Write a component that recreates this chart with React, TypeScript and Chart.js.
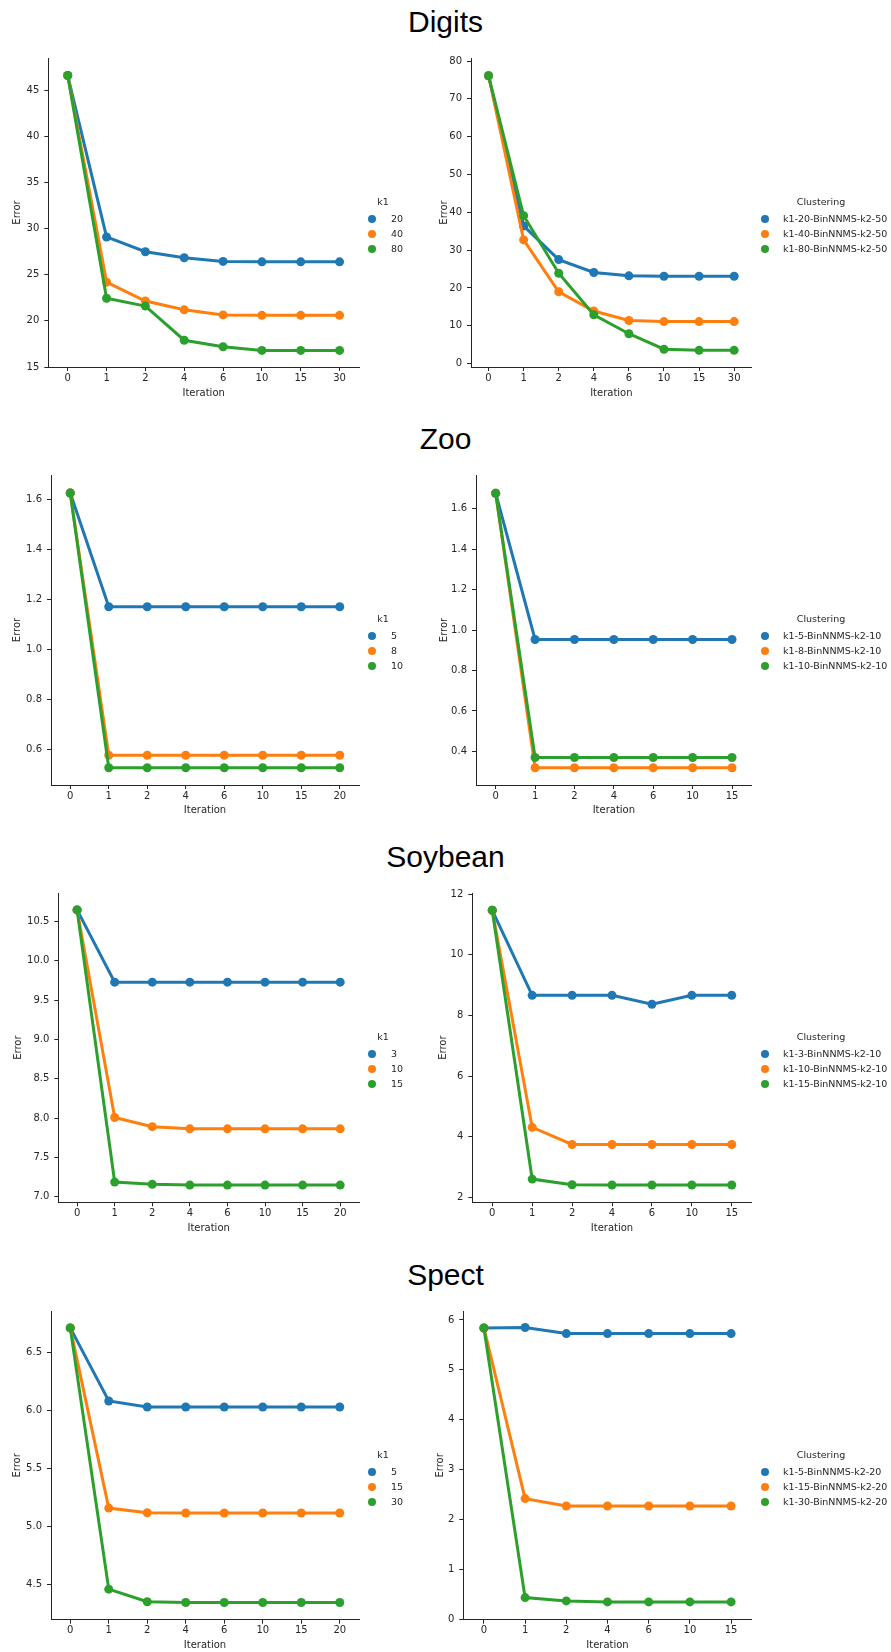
import React, { useEffect, useRef } from "react";
import { Chart, registerables } from "chart.js";
Chart.register(...registerables);

// ---------- categories ----------
const iterations30 = ["0", "1", "2", "4", "6", "10", "15", "30"];
const iterations20 = ["0", "1", "2", "4", "6", "10", "15", "20"];
const iterations15 = ["0", "1", "2", "4", "6", "10", "15"];

// ---------- Digits ----------
const digitsK1Labels = ["20", "40", "80"];
const digitsK1_20 = [46.6, 29.1, 27.5, 26.85, 26.45, 26.4, 26.4, 26.4];
const digitsK1_40 = [46.6, 24.2, 22.15, 21.2, 20.65, 20.6, 20.6, 20.6];
const digitsK1_80 = [46.6, 22.45, 21.6, 17.9, 17.2, 16.8, 16.8, 16.8];
const digitsLeftTicks = [15, 20, 25, 30, 35, 40, 45];

const digitsClusterLabels = ["k1-20-BinNNMS-k2-50", "k1-40-BinNNMS-k2-50", "k1-80-BinNNMS-k2-50"];
const digitsC20 = [76.1, 36.4, 27.5, 24.1, 23.2, 23.1, 23.1, 23.1];
const digitsC40 = [76.1, 32.7, 19.0, 13.9, 11.4, 11.1, 11.1, 11.1];
const digitsC80 = [76.1, 39.1, 23.9, 12.9, 7.9, 3.8, 3.5, 3.5];
const digitsRightTicks = [0, 10, 20, 30, 40, 50, 60, 70, 80];

// ---------- Zoo ----------
const zooK1Labels = ["5", "8", "10"];
const zooK1_5 = [1.624, 1.17, 1.17, 1.17, 1.17, 1.17, 1.17, 1.17];
const zooK1_8 = [1.624, 0.577, 0.577, 0.577, 0.577, 0.577, 0.577, 0.577];
const zooK1_10 = [1.624, 0.527, 0.527, 0.527, 0.527, 0.527, 0.527, 0.527];
const zooLeftTicks = [0.6, 0.8, 1.0, 1.2, 1.4, 1.6];

const zooClusterLabels = ["k1-5-BinNNMS-k2-10", "k1-8-BinNNMS-k2-10", "k1-10-BinNNMS-k2-10"];
const zooC5 = [1.676, 0.953, 0.953, 0.953, 0.953, 0.953, 0.953];
const zooC8 = [1.676, 0.319, 0.319, 0.319, 0.319, 0.319, 0.319];
const zooC10 = [1.676, 0.37, 0.37, 0.37, 0.37, 0.37, 0.37];
const zooRightTicks = [0.4, 0.6, 0.8, 1.0, 1.2, 1.4, 1.6];

// ---------- Soybean ----------
const soyK1Labels = ["3", "10", "15"];
const soyK1_3 = [10.645, 9.727, 9.727, 9.727, 9.727, 9.727, 9.727, 9.727];
const soyK1_10 = [10.645, 8.007, 7.89, 7.863, 7.863, 7.863, 7.863, 7.863];
const soyK1_15 = [10.645, 7.186, 7.157, 7.148, 7.148, 7.148, 7.148, 7.148];
const soyLeftTicks = [7.0, 7.5, 8.0, 8.5, 9.0, 9.5, 10.0, 10.5];

const soyClusterLabels = ["k1-3-BinNNMS-k2-10", "k1-10-BinNNMS-k2-10", "k1-15-BinNNMS-k2-10"];
const soyC3 = [11.47, 8.664, 8.664, 8.664, 8.368, 8.664, 8.664];
const soyC10 = [11.47, 4.31, 3.743, 3.743, 3.743, 3.743, 3.743];
const soyC15 = [11.47, 2.602, 2.416, 2.405, 2.405, 2.405, 2.405];
const soyRightTicks = [2, 4, 6, 8, 10, 12];

// ---------- Spect ----------
const spectK1Labels = ["5", "15", "30"];
const spectK1_5 = [6.713, 6.082, 6.03, 6.03, 6.03, 6.03, 6.03, 6.03];
const spectK1_15 = [6.713, 5.157, 5.117, 5.114, 5.114, 5.114, 5.114, 5.114];
const spectK1_30 = [6.713, 4.457, 4.348, 4.342, 4.342, 4.342, 4.342, 4.342];
const spectLeftTicks = [4.5, 5.0, 5.5, 6.0, 6.5];

const spectClusterLabels = ["k1-5-BinNNMS-k2-20", "k1-15-BinNNMS-k2-20", "k1-30-BinNNMS-k2-20"];
const spectC5 = [5.84, 5.85, 5.727, 5.727, 5.727, 5.727, 5.727];
const spectC15 = [5.84, 2.418, 2.271, 2.271, 2.271, 2.271, 2.271];
const spectC30 = [5.84, 0.433, 0.367, 0.347, 0.347, 0.347, 0.347];
const spectRightTicks = [0, 1, 2, 3, 4, 5, 6];

const sectionTitles = ["Digits", "Zoo", "Soybean", "Spect"];

// ---------- styling ----------
const COLORS = ["#1f77b4", "#ff7f0e", "#2ca02c"];
const AX = "#262626";
const TXT = "#262626";
const FONT_FAMILY = '"DejaVu Sans", sans-serif';
const LEGEND_FONT_SIZE = 9.5;
const AXIS_FONT_SIZE = 10;

type PanelCfg = {
  categories: string[];
  labels: string[];
  series: number[][];
  legendTitle: string;
  ticks: number[];
  decimals: number;
  yMin: number;
  yMax: number;
  L: number; T: number; R: number; B: number;
  errX: number; xlabY: number;
  side: "left" | "right";
};

const panels: PanelCfg[] = [
  { categories: iterations30, labels: digitsK1Labels, series: [digitsK1_20, digitsK1_40, digitsK1_80], legendTitle: "k1", ticks: digitsLeftTicks, decimals: 0, yMin: 15, yMax: 48.5, L: 48.3, T: 57, R: 359, B: 367, errX: 17.3, xlabY: 393, side: "left" },
  { categories: iterations30, labels: digitsClusterLabels, series: [digitsC20, digitsC40, digitsC80], legendTitle: "Clustering", ticks: digitsRightTicks, decimals: 0, yMin: -0.9, yMax: 80.8, L: 471, T: 57, R: 751.7, B: 367, errX: 443.5, xlabY: 393, side: "right" },
  { categories: iterations20, labels: zooK1Labels, series: [zooK1_5, zooK1_8, zooK1_10], legendTitle: "k1", ticks: zooLeftTicks, decimals: 1, yMin: 0.458, yMax: 1.696, L: 51, T: 474.3, R: 359, B: 785, errX: 17.3, xlabY: 810, side: "left" },
  { categories: iterations15, labels: zooClusterLabels, series: [zooC5, zooC8, zooC10], legendTitle: "Clustering", ticks: zooRightTicks, decimals: 1, yMin: 0.234, yMax: 1.766, L: 476, T: 474.3, R: 751.7, B: 785, errX: 444, xlabY: 810, side: "right" },
  { categories: iterations20, labels: soyK1Labels, series: [soyK1_3, soyK1_10, soyK1_15], legendTitle: "k1", ticks: soyLeftTicks, decimals: 1, yMin: 6.929, yMax: 10.86, L: 58.3, T: 892.3, R: 359, B: 1202.3, errX: 18.3, xlabY: 1227.7, side: "left" },
  { categories: iterations15, labels: soyClusterLabels, series: [soyC3, soyC10, soyC15], legendTitle: "Clustering", ticks: soyRightTicks, decimals: 0, yMin: 1.836, yMax: 12.04, L: 472.3, T: 892.3, R: 751.7, B: 1202.3, errX: 443.3, xlabY: 1227.7, side: "right" },
  { categories: iterations20, labels: spectK1Labels, series: [spectK1_5, spectK1_15, spectK1_30], legendTitle: "k1", ticks: spectLeftTicks, decimals: 1, yMin: 4.193, yMax: 6.859, L: 51, T: 1310, R: 359, B: 1619.7, errX: 17.3, xlabY: 1645, side: "left" },
  { categories: iterations15, labels: spectClusterLabels, series: [spectC5, spectC15, spectC30], legendTitle: "Clustering", ticks: spectRightTicks, decimals: 0, yMin: -0.01, yMax: 6.18, L: 463.3, T: 1310, R: 751.7, B: 1619.7, errX: 440, xlabY: 1645, side: "right" },
];

function Panel({ cfg }: { cfg: PanelCfg }) {
  const ref = useRef<HTMLCanvasElement | null>(null);
  const half = (AXIS_FONT_SIZE * 1.2) / 2;
  const cl = Math.round(cfg.errX - half);
  const ct = Math.round(cfg.T - 10);
  const cw = Math.ceil(cfg.R - cl + 10);
  const ch = Math.round(cfg.xlabY + half - ct);
  const yW = cfg.L - cl;
  const xH = ch - (cfg.B - ct);
  const padRight = cw - (cfg.R - cl);
  const padTop = cfg.T - ct;

  useEffect(() => {
    if (!ref.current) return;
    const font = { family: FONT_FAMILY, size: AXIS_FONT_SIZE };
    const chart = new Chart(ref.current, {
      type: "line",
      data: {
        labels: cfg.categories,
        datasets: cfg.series.map((s, i) => ({
          label: cfg.labels[i],
          data: s,
          borderColor: COLORS[i],
          backgroundColor: COLORS[i],
          pointBackgroundColor: COLORS[i],
          pointBorderColor: COLORS[i],
          borderWidth: 3,
          pointRadius: 4.5,
          pointBorderWidth: 0,
          tension: 0,
          fill: false,
          order: 2 - i,
          clip: false,
        })),
      },
      options: {
        responsive: false,
        animation: false,
        devicePixelRatio: 1,
        layout: { padding: { left: 0, top: padTop, right: padRight, bottom: 0 } },
        plugins: { legend: { display: false }, tooltip: { enabled: false } },
        scales: {
          x: {
            type: "category",
            offset: true,
            grid: { display: true, drawOnChartArea: false, drawTicks: true, tickLength: 4, offset: false, color: AX, lineWidth: 1 },
            border: { display: true, color: AX, width: 1 },
            ticks: { color: TXT, font, padding: 1, maxRotation: 0, autoSkip: false },
            title: { display: true, text: "Iteration", color: TXT, font, padding: 0 },
            afterFit: (s: any) => { s.height = xH; },
          },
          y: {
            type: "linear",
            min: cfg.yMin,
            max: cfg.yMax,
            grid: { display: true, drawOnChartArea: false, drawTicks: true, tickLength: 4, color: AX, lineWidth: 1 },
            border: { display: true, color: AX, width: 1 },
            ticks: {
              color: TXT,
              font,
              padding: 5,
              callback: (v: any) => Number(v).toFixed(cfg.decimals),
            },
            afterBuildTicks: (s: any) => { s.ticks = cfg.ticks.map((v) => ({ value: v })); },
            title: { display: true, text: "Error", color: TXT, font, padding: 0 },
            afterFit: (s: any) => { s.width = yW; },
          },
        },
      } as any,
    });
    return () => chart.destroy();
  }, []);

  const legTitleX = cfg.side === "left" ? 383 : 821;
  const markerX = cfg.side === "left" ? 372 : 765;
  const textX = cfg.side === "left" ? 391 : 783;
  const legY0 = cfg.T + 145;
  const textStyle: React.CSSProperties = {
    position: "absolute",
    font: `${LEGEND_FONT_SIZE}px ${FONT_FAMILY}`,
    color: TXT,
    lineHeight: "12px",
    whiteSpace: "nowrap",
  };

  return (
    <>
      <canvas ref={ref} width={cw} height={ch} style={{ position: "absolute", left: cl, top: ct, width: cw, height: ch }} />
      <div style={{ ...textStyle, left: legTitleX - 60, width: 120, textAlign: "center", top: legY0 - 6 }}>{cfg.legendTitle}</div>
      {cfg.labels.map((lab, i) => (
        <React.Fragment key={lab}>
          <div style={{ position: "absolute", left: markerX - 4, top: legY0 + 17 + i * 15 - 4, width: 8, height: 8, borderRadius: "50%", background: COLORS[i] }} />
          <div style={{ ...textStyle, left: textX, top: legY0 + 17 + i * 15 - 6 }}>{lab}</div>
        </React.Fragment>
      ))}
    </>
  );
}

export default function App() {
  return (
    <div style={{ position: "absolute", left: 0, top: 0, width: 891, height: 1652, background: "#fff", overflow: "hidden" }}>
      {sectionTitles.map((t, i) => (
        <div
          key={t}
          style={{
            position: "absolute",
            left: 0,
            width: 891,
            textAlign: "center",
            top: panels[i * 2].T - 25 - 25.4,
            font: '30px "Liberation Sans", Arial, sans-serif',
            lineHeight: "30px",
            color: "#000",
          }}
        >
          {t}
        </div>
      ))}
      {panels.map((p, i) => (
        <Panel key={i} cfg={p} />
      ))}
    </div>
  );
}
